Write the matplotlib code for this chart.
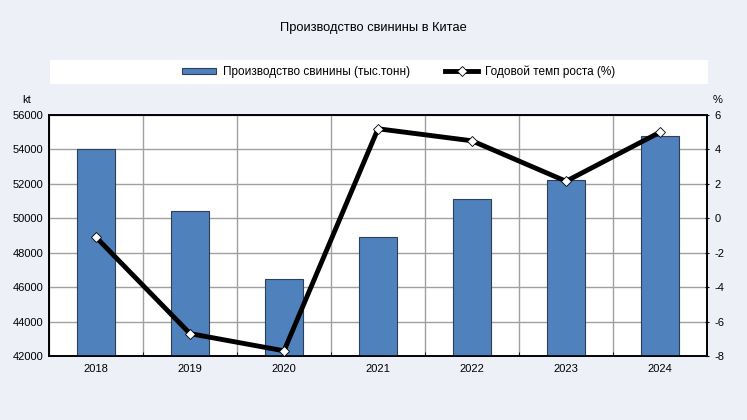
import matplotlib.pyplot as plt
import matplotlib.patches as mpatches
import numpy as np

plt.rcParams['font.family'] = ['Liberation Sans', 'DejaVu Sans']
plt.rcParams['axes.unicode_minus'] = False

years = ['2018', '2019', '2020', '2021', '2022', '2023', '2024']
production = [54040, 50400, 46500, 48900, 51100, 52200, 54800]
growth = [-1.1, -6.7, -7.7, 5.2, 4.5, 2.15, 5.0]

bg = '#eef0f8'
fig = plt.figure(figsize=(7.47, 4.2), dpi=100)
fig.patch.set_facecolor(bg)

ax = fig.add_axes([0.0656, 0.1524, 0.8809, 0.5738])
ax.set_facecolor('white')
x = np.arange(len(years))

ax.bar(x, production, width=0.4, color='#4f81bd', edgecolor='#2f3f55',
       linewidth=0.8, zorder=3, label='Производство свинины (тыс.тонн)')
ax.set_ylim(42000, 56000)
ax.set_yticks(np.arange(42000, 56001, 2000))
ax.set_xlim(-0.5, len(years) - 0.5)
ax.set_xticks(x)
ax.set_xticklabels(years)
ax.set_xticks(np.arange(-0.5, len(years), 1.0), minor=True)
ax.grid(True, axis='y', color='#a0a0a0', linewidth=1.0, zorder=0)
ax.grid(True, axis='x', which='minor', color='#a0a0a0', linewidth=1.0, zorder=0)
ax.tick_params(axis='x', which='major', length=0, labelsize=8, pad=6)
ax.tick_params(axis='x', which='minor', length=3, direction='in')
ax.tick_params(axis='y', length=0, labelsize=8, pad=4)
for s in ax.spines.values():
    s.set_linewidth(1.2)
    s.set_color('black')

ax2 = ax.twinx()
ax2.plot(x, growth, color='black', linewidth=3.5, marker='D', markersize=5.5,
         markerfacecolor='white', markeredgecolor='black', markeredgewidth=0.6,
         zorder=5, label='Годовой темп роста (%)')
ax2.set_ylim(-8, 6)
ax2.set_yticks(np.arange(-8, 7, 2))
ax2.tick_params(axis='y', length=3, direction='inout', labelsize=8, pad=4)
for s in ax2.spines.values():
    s.set_linewidth(1.2)

fig.text(27 / 747, 1 - 100 / 420, 'kt', fontsize=8, ha='center', va='center')
fig.text(718 / 747, 1 - 100 / 420, '%', fontsize=8, ha='center', va='center')

fig.text(0.5, 1 - 28 / 420, 'Производство свинины в Китае', fontsize=9.3,
         ha='center', va='center')

# white band behind the legend
fig.patches.append(mpatches.Rectangle((50 / 747, 1 - 84 / 420), 658 / 747, 24 / 420,
                                      transform=fig.transFigure, facecolor='white',
                                      edgecolor='none', zorder=0))
h1, l1 = ax.get_legend_handles_labels()
h2, l2 = ax2.get_legend_handles_labels()
fig.legend(h1 + h2, l1 + l2, loc='center', bbox_to_anchor=(399 / 747, 1 - 72 / 420),
           ncol=2, frameon=False, fontsize=8.5, handlelength=2.8,
           handleheight=0.5, columnspacing=3.0, handletextpad=0.6)

fig.savefig('out.png', dpi=100, facecolor=bg)
